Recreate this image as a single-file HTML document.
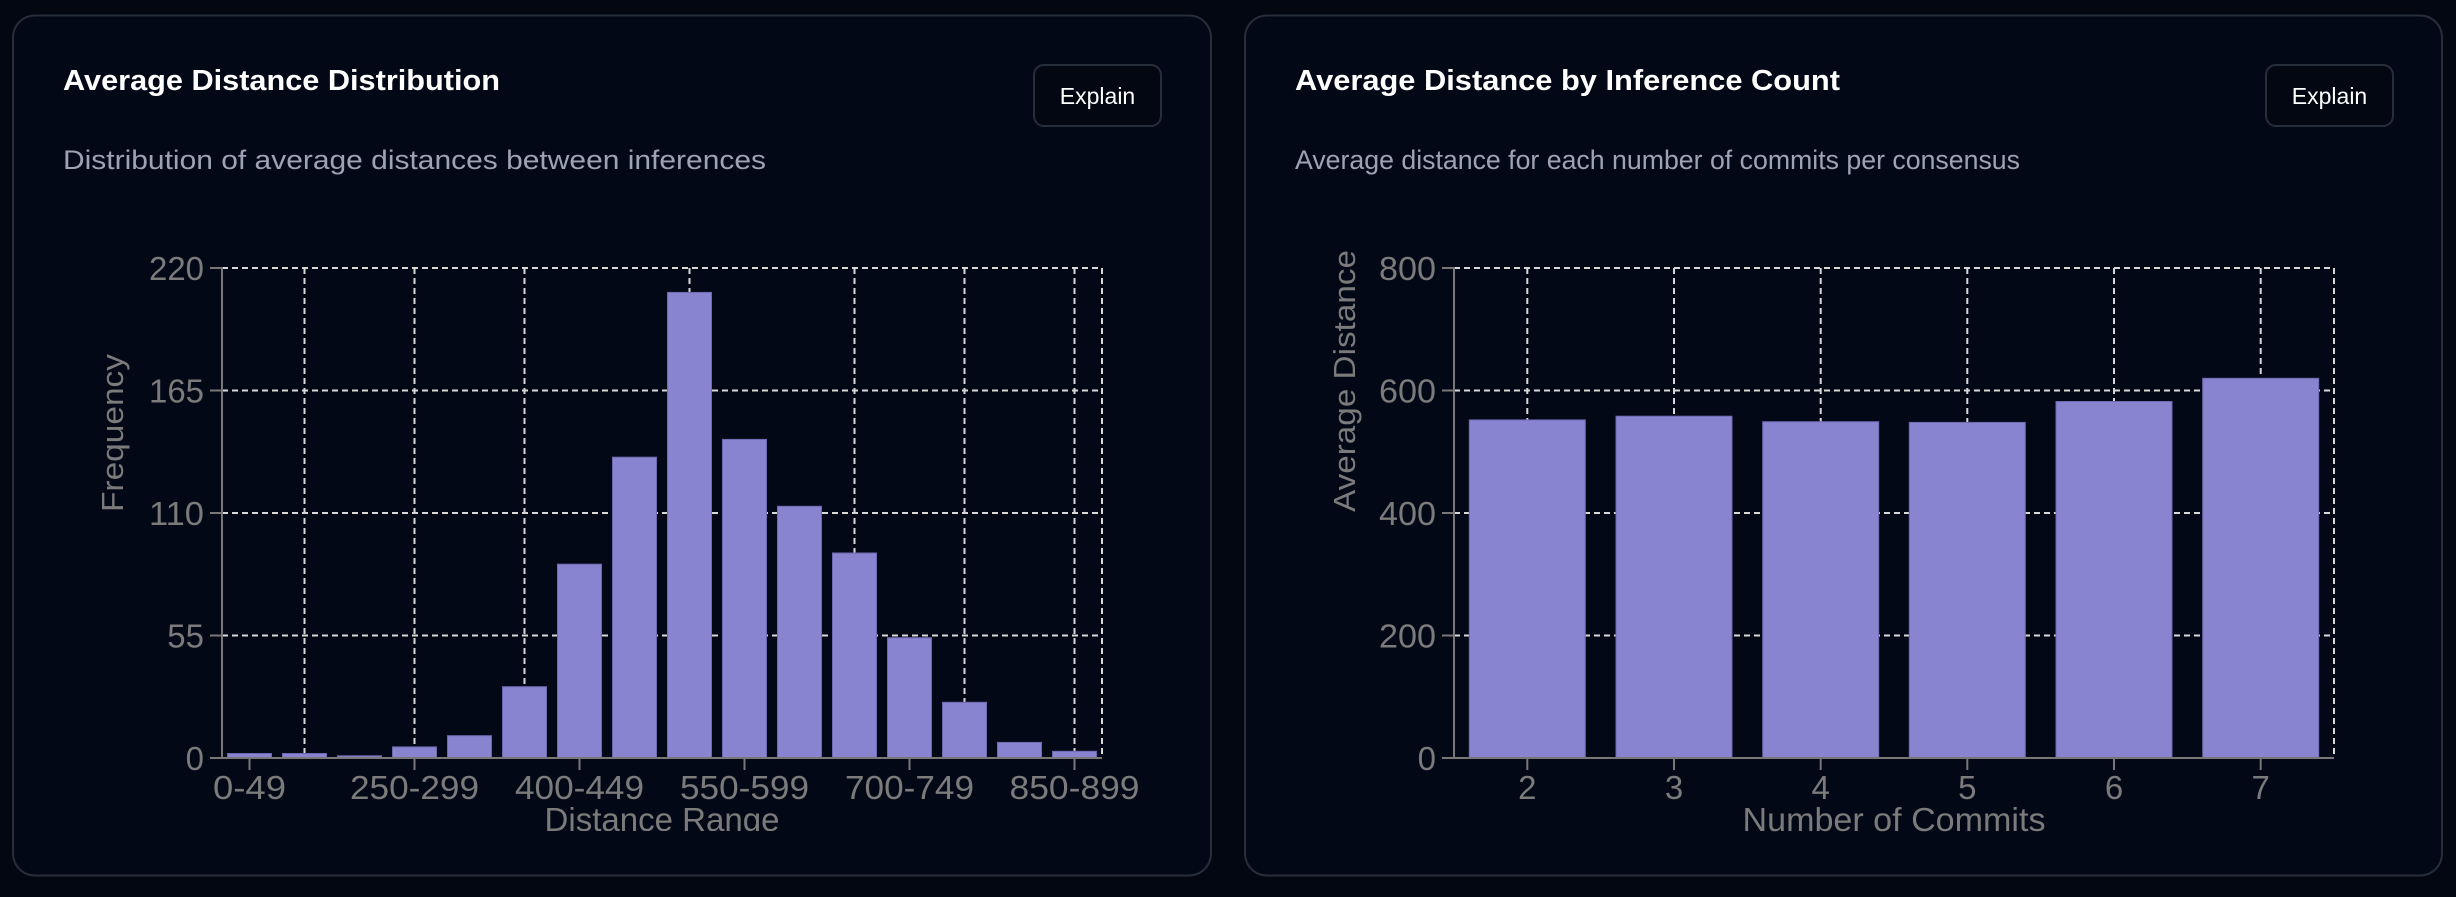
<!DOCTYPE html>
<html><head><meta charset="utf-8"><style>
html,body{margin:0;padding:0;background:#030712;}
body{width:2456px;height:892px;overflow:hidden;}
</style></head><body>
<svg width="2456" height="892" xmlns="http://www.w3.org/2000/svg" font-family="Liberation Sans, sans-serif">
<rect x="0" y="0" width="2456" height="892" fill="#030712"/>
<rect x="13" y="15.5" width="1198" height="860" rx="22" fill="#030816" stroke="#262d3b" stroke-width="2"/>
<rect x="1245" y="15.5" width="1197" height="860" rx="22" fill="#030816" stroke="#262d3b" stroke-width="2"/>

<text x="63" y="90" font-size="29" font-weight="bold" fill="#ffffff" textLength="437" lengthAdjust="spacingAndGlyphs">Average Distance Distribution</text>
<text x="63" y="169" font-size="27" fill="#9ca3b4" textLength="703" lengthAdjust="spacingAndGlyphs">Distribution of average distances between inferences</text>
<rect x="1034" y="65" width="127" height="61" rx="10" fill="#030712" stroke="#262d3b" stroke-width="2"/>
<text x="1097.5" y="104" font-size="23" fill="#ffffff" text-anchor="middle">Explain</text>

<text x="1295" y="90" font-size="29" font-weight="bold" fill="#ffffff" textLength="545" lengthAdjust="spacingAndGlyphs">Average Distance by Inference Count</text>
<text x="1295" y="169" font-size="27" fill="#9ca3b4" textLength="725" lengthAdjust="spacingAndGlyphs">Average distance for each number of commits per consensus</text>
<rect x="2266" y="65" width="127" height="61" rx="10" fill="#030712" stroke="#262d3b" stroke-width="2"/>
<text x="2329.5" y="104" font-size="23" fill="#ffffff" text-anchor="middle">Explain</text>

<!-- LEFT CHART -->
<g stroke="#d8d8d8" stroke-width="2" stroke-dasharray="6 4" fill="none">
<line x1="222" y1="268" x2="1102" y2="268"/>
<line x1="222" y1="390.5" x2="1102" y2="390.5"/>
<line x1="222" y1="513" x2="1102" y2="513"/>
<line x1="222" y1="635.5" x2="1102" y2="635.5"/>
<line x1="304.5" y1="268" x2="304.5" y2="758"/>
<line x1="414.5" y1="268" x2="414.5" y2="758"/>
<line x1="524.5" y1="268" x2="524.5" y2="758"/>
<line x1="689.5" y1="268" x2="689.5" y2="758"/>
<line x1="854.5" y1="268" x2="854.5" y2="758"/>
<line x1="964.5" y1="268" x2="964.5" y2="758"/>
<line x1="1074.5" y1="268" x2="1074.5" y2="758"/>
<line x1="1102" y1="268" x2="1102" y2="758"/>
</g>
<g fill="#8884d0" stroke="#6d69b0" stroke-width="1">
<rect x="227.5" y="753.5" width="44" height="4.5"/>
<rect x="282.5" y="753.5" width="44" height="4.5"/>
<rect x="337.5" y="755.8" width="44" height="2.2"/>
<rect x="392.5" y="746.9" width="44" height="11.1"/>
<rect x="447.5" y="735.7" width="44" height="22.3"/>
<rect x="502.5" y="686.7" width="44" height="71.3"/>
<rect x="557.5" y="564.2" width="44" height="193.8"/>
<rect x="612.5" y="457.2" width="44" height="300.8"/>
<rect x="667.5" y="292.4" width="44" height="465.6"/>
<rect x="722.5" y="439.4" width="44" height="318.6"/>
<rect x="777.5" y="506.3" width="44" height="251.7"/>
<rect x="832.5" y="553.0" width="44" height="205.0"/>
<rect x="887.5" y="637.7" width="44" height="120.3"/>
<rect x="942.5" y="702.3" width="44" height="55.7"/>
<rect x="997.5" y="742.4" width="44" height="15.6"/>
<rect x="1052.5" y="751.3" width="44" height="6.7"/>
</g>
<g stroke="#777" stroke-width="2">
<line x1="222" y1="267" x2="222" y2="759"/>
<line x1="221" y1="758" x2="1102" y2="758"/>
<line x1="210" y1="268" x2="222" y2="268"/>
<line x1="210" y1="390.5" x2="222" y2="390.5"/>
<line x1="210" y1="513" x2="222" y2="513"/>
<line x1="210" y1="635.5" x2="222" y2="635.5"/>
<line x1="210" y1="758" x2="222" y2="758"/>
<line x1="249.5" y1="758" x2="249.5" y2="770"/>
<line x1="414.5" y1="758" x2="414.5" y2="770"/>
<line x1="579.5" y1="758" x2="579.5" y2="770"/>
<line x1="744.5" y1="758" x2="744.5" y2="770"/>
<line x1="909.5" y1="758" x2="909.5" y2="770"/>
<line x1="1074.5" y1="758" x2="1074.5" y2="770"/>
</g>
<g font-size="33" fill="#7b7b7b" text-anchor="end">
<text x="204" y="280" textLength="55" lengthAdjust="spacingAndGlyphs">220</text>
<text x="204" y="402.5" textLength="55" lengthAdjust="spacingAndGlyphs">165</text>
<text x="204" y="525" textLength="55" lengthAdjust="spacingAndGlyphs">110</text>
<text x="204" y="647.5">55</text>
<text x="204" y="770">0</text>
</g>
<g font-size="33" fill="#7b7b7b" text-anchor="middle" lengthAdjust="spacingAndGlyphs">
<text x="249.5" y="799" textLength="73" lengthAdjust="spacingAndGlyphs">0-49</text>
<text x="414.5" y="799" textLength="129" lengthAdjust="spacingAndGlyphs">250-299</text>
<text x="579.5" y="799" textLength="129" lengthAdjust="spacingAndGlyphs">400-449</text>
<text x="744.5" y="799" textLength="129" lengthAdjust="spacingAndGlyphs">550-599</text>
<text x="909.5" y="799" textLength="129" lengthAdjust="spacingAndGlyphs">700-749</text>
<text x="1074.5" y="799" textLength="130" lengthAdjust="spacingAndGlyphs">850-899</text>
</g>
<svg x="0" y="0" width="1228" height="831">
<text x="662" y="831" font-size="33" fill="#7b7b7b" text-anchor="middle" textLength="235" lengthAdjust="spacingAndGlyphs">Distance Range</text>
</svg>
<text transform="translate(123,433) rotate(-90)" font-size="31" fill="#7b7b7b" text-anchor="middle" textLength="158" lengthAdjust="spacingAndGlyphs">Frequency</text>

<!-- RIGHT CHART -->
<g stroke="#d8d8d8" stroke-width="2" stroke-dasharray="6 4" fill="none">
<line x1="1454" y1="268" x2="2334" y2="268"/>
<line x1="1454" y1="390.5" x2="2334" y2="390.5"/>
<line x1="1454" y1="513" x2="2334" y2="513"/>
<line x1="1454" y1="635.5" x2="2334" y2="635.5"/>
<line x1="1527.3" y1="268" x2="1527.3" y2="758"/>
<line x1="1674" y1="268" x2="1674" y2="758"/>
<line x1="1820.7" y1="268" x2="1820.7" y2="758"/>
<line x1="1967.3" y1="268" x2="1967.3" y2="758"/>
<line x1="2114" y1="268" x2="2114" y2="758"/>
<line x1="2260.7" y1="268" x2="2260.7" y2="758"/>
<line x1="2334" y1="268" x2="2334" y2="758"/>
</g>
<g fill="#8884d0" stroke="#6d69b0" stroke-width="1">
<rect x="1469.3" y="419.9" width="116" height="338.1"/>
<rect x="1616" y="416.2" width="116" height="341.8"/>
<rect x="1762.7" y="421.7" width="116" height="336.3"/>
<rect x="1909.3" y="422.4" width="116" height="335.6"/>
<rect x="2056" y="401.5" width="116" height="356.5"/>
<rect x="2202.7" y="378.3" width="116" height="379.7"/>
</g>
<g stroke="#777" stroke-width="2">
<line x1="1454" y1="267" x2="1454" y2="759"/>
<line x1="1453" y1="758" x2="2334" y2="758"/>
<line x1="1442" y1="268" x2="1454" y2="268"/>
<line x1="1442" y1="390.5" x2="1454" y2="390.5"/>
<line x1="1442" y1="513" x2="1454" y2="513"/>
<line x1="1442" y1="635.5" x2="1454" y2="635.5"/>
<line x1="1442" y1="758" x2="1454" y2="758"/>
<line x1="1527.3" y1="758" x2="1527.3" y2="770"/>
<line x1="1674" y1="758" x2="1674" y2="770"/>
<line x1="1820.7" y1="758" x2="1820.7" y2="770"/>
<line x1="1967.3" y1="758" x2="1967.3" y2="770"/>
<line x1="2114" y1="758" x2="2114" y2="770"/>
<line x1="2260.7" y1="758" x2="2260.7" y2="770"/>
</g>
<g font-size="33" fill="#7b7b7b" text-anchor="end">
<text x="1436" y="280" textLength="57" lengthAdjust="spacingAndGlyphs">800</text>
<text x="1436" y="402.5" textLength="57" lengthAdjust="spacingAndGlyphs">600</text>
<text x="1436" y="525" textLength="57" lengthAdjust="spacingAndGlyphs">400</text>
<text x="1436" y="647.5" textLength="57" lengthAdjust="spacingAndGlyphs">200</text>
<text x="1436" y="770">0</text>
</g>
<g font-size="33" fill="#7b7b7b" text-anchor="middle">
<text x="1527.3" y="799">2</text>
<text x="1674" y="799">3</text>
<text x="1820.7" y="799">4</text>
<text x="1967.3" y="799">5</text>
<text x="2114" y="799">6</text>
<text x="2260.7" y="799">7</text>
</g>
<text x="1894" y="831" font-size="33" fill="#7b7b7b" text-anchor="middle" textLength="303" lengthAdjust="spacingAndGlyphs">Number of Commits</text>
<text transform="translate(1355,381) rotate(-90)" font-size="31" fill="#7b7b7b" text-anchor="middle" textLength="262" lengthAdjust="spacingAndGlyphs">Average Distance</text>
</svg>
</body></html>
